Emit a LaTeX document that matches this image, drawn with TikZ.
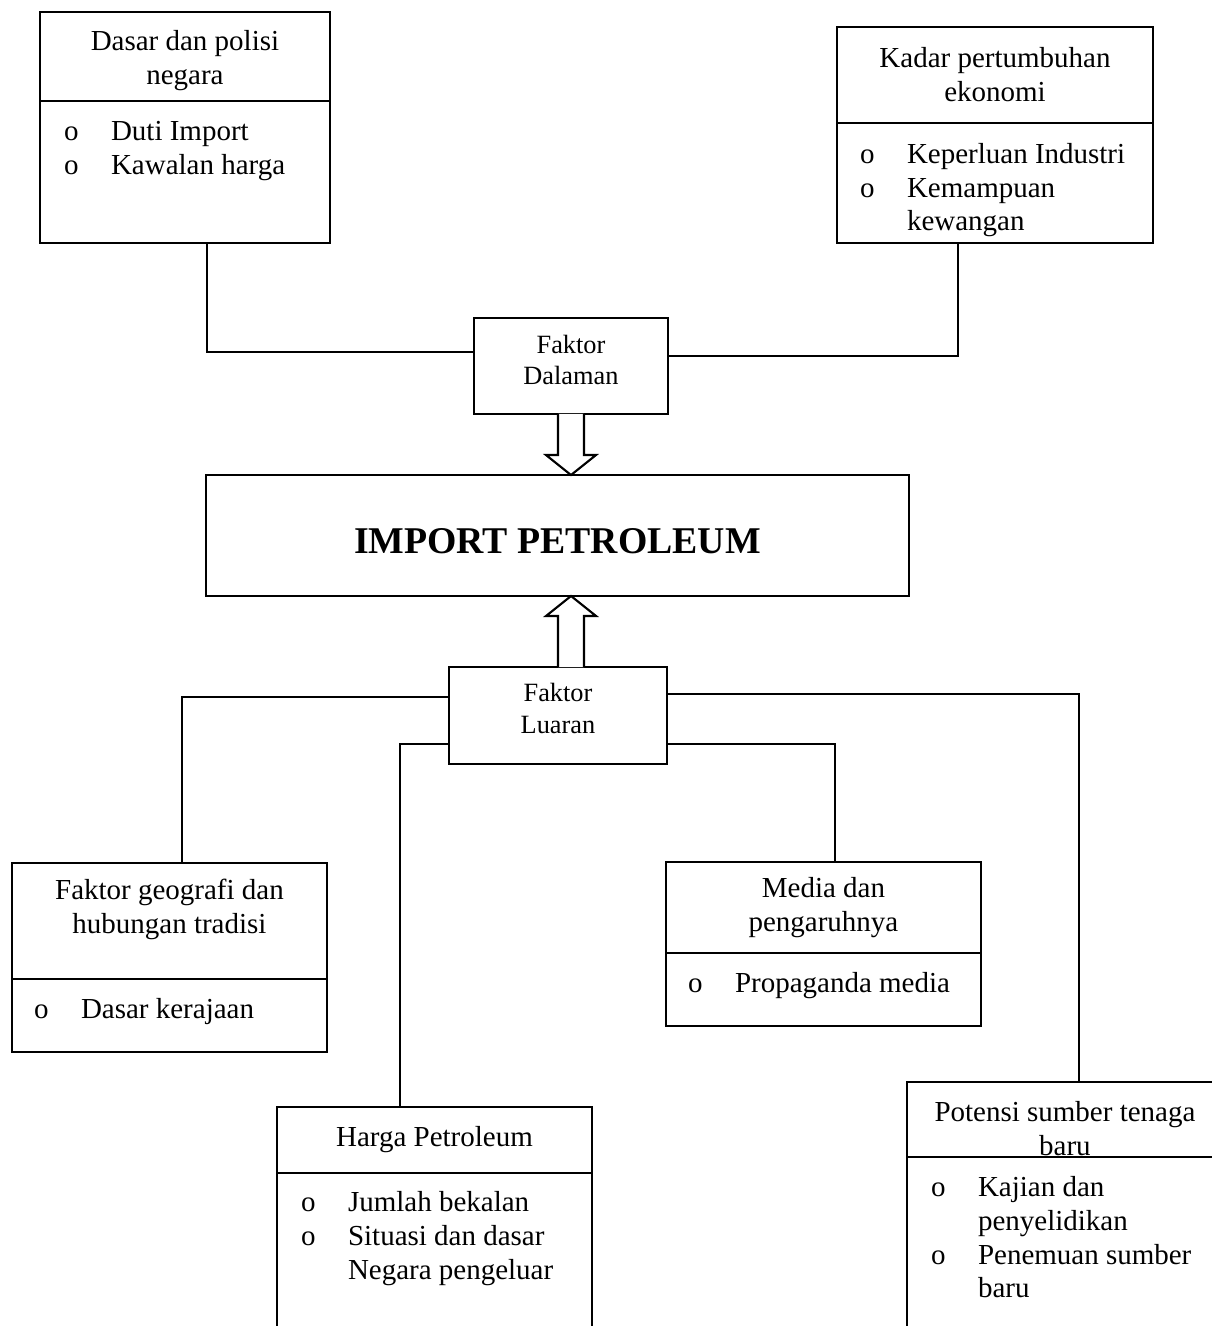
\documentclass[tikz,border=0pt]{standalone}
\usepackage{fontspec}
\setmainfont{Liberation Serif}
\usetikzlibrary{calc,positioning}

% bullet item and its continuation line
\newcommand{\itm}[1]{\makebox[0.94cm][l]{o}#1}
\newcommand{\cont}[1]{\hspace*{0.94cm}#1}
% invisible struts to nudge a line up or down
\newcommand{\up}[1]{\rule{0pt}{#1}}
\newcommand{\dn}[1]{\rule[-#1]{0pt}{#1}}

\begin{document}
\begin{tikzpicture}[x=0.02cm,y=-0.02cm,line width=1.2pt,node distance=0pt]
    \tikzset{
      head/.style={draw,outer sep=0pt,inner sep=0pt,align=center,font=\fontsize{16.5}{19.3}\selectfont},
      body/.style={draw,outer sep=0pt,inner sep=0pt},
      items/.style={inner sep=0pt,align=left,anchor=north west,font=\fontsize{16.5}{19.3}\selectfont},
      factor/.style={draw,outer sep=0pt,align=center,font=\fontsize{15}{18}\selectfont},
      link/.style={line width=1.2pt},
      hollow/.style={line width=1.2pt,fill=white,line join=miter}
    }
    \useasboundingbox (0,0) rectangle (1211,1326);

    % centre
    \node[draw,outer sep=0pt,minimum width=14.06cm,minimum height=2.42cm,text height=20pt,text depth=0pt,font=\fontsize{21.5}{25}\selectfont\bfseries] (import) at (557.5,535.5) {IMPORT PETROLEUM};
    \node[factor,minimum width=3.88cm,minimum height=1.92cm] (dalaman) at (571,366) {Faktor\\Dalaman\dn{0.24cm}};
    \node[factor,minimum width=4.36cm,minimum height=1.94cm] (luaran) at (558,715.5) {Faktor\\Luaran\dn{0.28cm}};

    % internal factors
    \node[head,minimum width=5.8cm,minimum height=1.78cm,anchor=north west] (dasar) at (40,12) {\up{0.56cm}Dasar dan polisi\\negara};
    \node[body,minimum width=5.8cm,minimum height=2.84cm,below=of dasar] (dasarbody) {};
    \node[items] (dasaritems) at (63,120) {\itm{Duti Import}\\\itm{Kawalan harga}};

    \node[head,minimum width=6.32cm,minimum height=1.92cm,anchor=north west] (kadar) at (837,27) {Kadar pertumbuhan\\ekonomi};
    \node[body,minimum width=6.32cm,minimum height=2.4cm,below=of kadar] (kadarbody) {};
    \node[items] (kadaritems) at (859,142) {\itm{Keperluan Industri}\\\itm{Kemampuan}\\\cont{kewangan}};

    % external factors
    \node[head,minimum width=6.3cm,minimum height=2.32cm,anchor=north west] (geog) at (12,863) {Faktor geografi dan\\hubungan tradisi\dn{0.6cm}};
    \node[body,minimum width=6.3cm,minimum height=1.46cm,below=of geog] (geogbody) {};
    \node[items] (geogitems) at (33,997) {\itm{Dasar kerajaan}};

    \node[head,minimum width=6.3cm,minimum height=1.82cm,anchor=north west] (media) at (666,862) {Media dan\\pengaruhnya};
    \node[body,minimum width=6.3cm,minimum height=1.46cm,below=of media] (mediabody) {};
    \node[items] (mediaitems) at (687,971) {\itm{Propaganda media}};

    \node[head,minimum width=6.3cm,minimum height=1.32cm,anchor=north west] (harga) at (277,1107) {Harga Petroleum};
    \node[body,minimum width=6.3cm,minimum height=3.4cm,below=of harga] (hargabody) {};
    \node[items] (hargaitems) at (300,1190) {\itm{Jumlah bekalan}\\\itm{Situasi dan dasar}\\\cont{Negara pengeluar}};

    \node[head,minimum width=6.32cm,minimum height=1.5cm,anchor=north west] (potensi) at (907,1082) {\up{0.76cm}Potensi sumber tenaga\\baru};
    \node[body,minimum width=6.32cm,minimum height=3.7cm,below=of potensi] (potensibody) {};
    \node[items] (potensiitems) at (930,1175) {\itm{Kajian dan}\\\cont{penyelidikan}\\\itm{Penemuan sumber}\\\cont{baru}};

    % connectors
    \draw[link] ([yshift=0.28cm]dalaman.west) -| ([xshift=0.44cm]dasarbody.south);
    \draw[link] ([yshift=0.2cm]dalaman.east) -| ([xshift=-0.74cm]kadarbody.south);
    \draw[link] ([yshift=0.37cm]luaran.west) -| ([xshift=0.25cm]geog.north);
    \draw[link] ([yshift=-0.57cm]luaran.west) -| ([xshift=-0.69cm]harga.north);
    \draw[link] ([yshift=0.43cm]luaran.east) -| ([xshift=0.28cm]potensi.north);
    \draw[link] ([yshift=-0.57cm]luaran.east) -| ([xshift=0.23cm]media.north);

    % hollow arrows into the centre
    \coordinate (tipdown) at (import.north -| dalaman.south);
    \coordinate (tipup) at (import.south -| dalaman.south);
    \draw[hollow] ($(dalaman.south)+(-13,0)$) -- ($(tipdown)+(-13,-20)$) -- ++(-12,0) -- (tipdown)
      -- ($(tipdown)+(25,-20)$) -- ++(-12,0) -- ($(dalaman.south)+(13,0)$);
    \draw[hollow] ($(luaran.north -| tipup)+(-13,0)$) -- ($(tipup)+(-13,20)$) -- ++(-12,0) -- (tipup)
      -- ($(tipup)+(25,20)$) -- ++(-12,0) -- ($(luaran.north -| tipup)+(13,0)$);
  \end{tikzpicture}
\end{document}
